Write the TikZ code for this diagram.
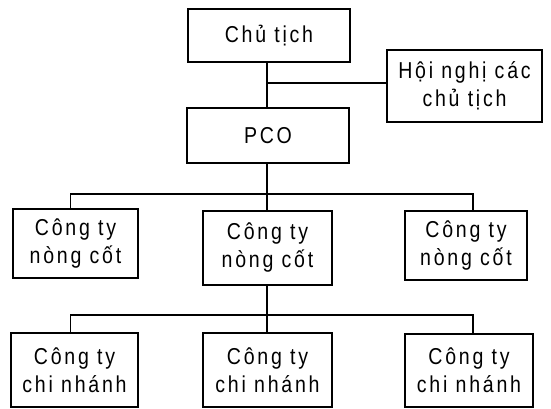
\documentclass[tikz,border=0pt]{standalone}
\usepackage{fontspec}
\setmainfont[LetterSpace=12,FakeStretch=0.85]{Liberation Sans}
\begin{document}
\begin{tikzpicture}[x=1pt,y=-1pt,
  box/.style={draw=black, line width=2pt, rectangle, inner sep=0pt, align=center,
    font=\fontsize{23}{28}\selectfont},
  conn/.style={draw=black, line width=1.9pt}]
\useasboundingbox (0,0) rectangle (551,409);
\node[box, minimum width=162, minimum height=53] (ct) at (269,35.5) {Chủ tịch};
\node[box, minimum width=155, minimum height=72] (hn) at (464.5,86) {Hội nghị các\\chủ tịch};
\node[box, minimum width=162, minimum height=55] (pco) at (268,135.5) {PCO};
\node[box, minimum width=125, minimum height=69] (ml) at (75.5,243.5) {Công ty\\nòng cốt};
\node[box, minimum width=129, minimum height=74] (mc) at (267.5,248) {Công ty\\nòng cốt};
\node[box, minimum width=122, minimum height=69] (mr) at (466,245.5) {Công ty\\nòng cốt};
\node[box, minimum width=127, minimum height=74] (bl) at (74.5,370) {Công ty\\chi nhánh};
\node[box, minimum width=129, minimum height=74] (bc) at (267.5,370) {Công ty\\chi nhánh};
\node[box, minimum width=128, minimum height=73] (br) at (469,370.5) {Công ty\\chi nhánh};
\coordinate (j1) at (267,83);
\coordinate (b1) at (267,194);
\coordinate (b2) at (267,315);
\draw[conn] (ct.south -| j1) -- (pco.north -| j1);
\draw[conn] (j1) -- (j1 -| hn.west);
\draw[conn] (pco.south -| b1) -- (mc.north -| b1);
\draw[conn] ([xshift=-5pt]ml.north) |- (b1) -| ([xshift=7pt]mr.north);
\draw[conn] (mc.south -| b2) -- (bc.north -| b2);
\draw[conn] ([xshift=-4pt]bl.north) |- (b2) -| ([xshift=4pt]br.north);
\end{tikzpicture}
\end{document}
